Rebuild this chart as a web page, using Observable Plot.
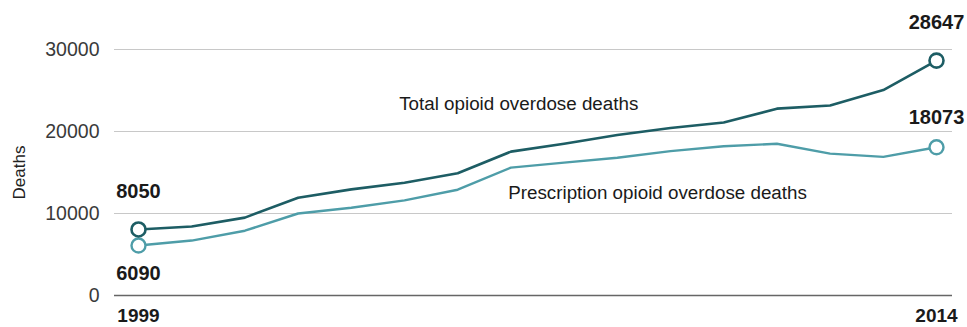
<!DOCTYPE html>
<html>
<head>
<meta charset="utf-8">
<script src="https://cdn.jsdelivr.net/npm/d3@7"></script>
<script src="https://cdn.jsdelivr.net/npm/@observablehq/plot@0.6"></script>
<style>
  html, body { margin: 0; padding: 0; background: #fff; }
  #chart svg { display: block; }
</style>
</head>
<body>
<div id="chart"></div>
<script>
const years = [1999, 2000, 2001, 2002, 2003, 2004, 2005, 2006, 2007, 2008, 2009, 2010, 2011, 2012, 2013, 2014];
const totalDeaths = [8050, 8407, 9496, 11920, 12940, 13756, 14918, 17545, 18516, 19582, 20422, 21089, 22784, 23166, 25052, 28647];
const prescriptionDeaths = [6090, 6700, 7900, 10000, 10700, 11600, 12900, 15600, 16200, 16800, 17600, 18200, 18500, 17300, 16900, 18073];
const yTicks = [0, 10000, 20000, 30000];
const xTicks = [1999, 2014];
const seriesNames = ["Total opioid overdose deaths", "Prescription opioid overdose deaths"];
const seriesColors = ["#1d5d64", "#4e9da8"];
// annotation anchors in data units (year, deaths)
const annotYears = [2003.9, 2005.95];
const annotValues = [23400, 12450];

const total = years.map((y, i) => ({year: y, value: totalDeaths[i]}));
const presc = years.map((y, i) => ({year: y, value: prescriptionDeaths[i]}));
const ends = (arr) => [arr[0], arr[arr.length - 1]];
const annots = seriesNames.map((t, i) => ({text: t, year: annotYears[i], value: annotValues[i]}));

const font = "'Liberation Sans', Arial, sans-serif";

const chart = Plot.plot({
  width: 967,
  height: 327,
  marginLeft: 114,
  marginRight: 15,
  marginTop: 49,
  marginBottom: 32,
  insetLeft: 24,
  insetRight: 16,
  style: {fontFamily: font, background: "#fff", color: "#444"},
  x: {domain: [1999, 2014]},
  y: {domain: [0, 30000]},
  marks: [
    Plot.ruleY(yTicks.filter(d => d > 0), {stroke: "#c8c8c8", strokeWidth: 1.2}),
    Plot.ruleY([0], {stroke: "#666", strokeWidth: 1.6}),
    Plot.axisY({ticks: yTicks, tickSize: 0, tickPadding: 15, tickFormat: d => String(d), fontSize: 19.5, fill: "#3a3a3a", label: null}),
    Plot.axisX({ticks: xTicks, tickSize: 0, tickPadding: 13, tickFormat: d => String(d), fontSize: 19, fontWeight: "bold", fill: "#1a1a1a", label: null}),
    Plot.text(["Deaths"], {frameAnchor: "left", textAnchor: "middle", dx: -95, rotate: -90, fontSize: 17, fill: "#222"}),
    Plot.line(presc, {x: "year", y: "value", stroke: seriesColors[1], strokeWidth: 2.4}),
    Plot.line(total, {x: "year", y: "value", stroke: seriesColors[0], strokeWidth: 2.6}),
    Plot.dot(ends(presc), {x: "year", y: "value", r: 7, fill: "#fff", stroke: seriesColors[1], strokeWidth: 2.4}),
    Plot.dot(ends(total), {x: "year", y: "value", r: 7, fill: "#fff", stroke: seriesColors[0], strokeWidth: 2.6}),
    Plot.text(ends(total), {x: "year", y: "value", text: d => String(d.value), dy: -38, fontSize: 20, fontWeight: "bold", fill: "#1a1a1a"}),
    Plot.text([presc[0]], {x: "year", y: "value", text: d => String(d.value), dy: 28, fontSize: 20, fontWeight: "bold", fill: "#1a1a1a"}),
    Plot.text([presc[presc.length - 1]], {x: "year", y: "value", text: d => String(d.value), dy: -30, fontSize: 20, fontWeight: "bold", fill: "#1a1a1a"}),
    Plot.text(annots, {x: "year", y: "value", text: "text", textAnchor: "start", fontSize: 18.8, fill: "#1a1a1a"})
  ]
});
document.getElementById("chart").appendChild(chart);
</script>
</body>
</html>
